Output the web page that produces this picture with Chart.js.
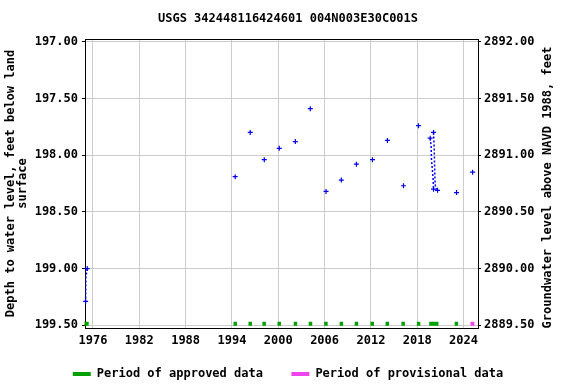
<!DOCTYPE html>
<html>
<head>
<meta charset="utf-8">
<script src="https://cdn.jsdelivr.net/npm/chart.js@4"></script>
<style>
  html, body { margin: 0; padding: 0; background: #fff; }
  #wrap { width: 576px; height: 384px; }
</style>
</head>
<body>
<div id="wrap"><canvas id="gwChart" width="576" height="384"></canvas></div>
<script>
// measurement dates (decimal years) and depth to water (ft below land surface)
const pointYears  = [1994.42, 1996.37, 1998.19, 2000.13, 2002.21, 2004.15, 2006.19, 2008.17, 2010.12, 2012.20, 2014.14, 2016.22, 2018.16, 2023.09, 2025.17];
const pointDepths = [198.19, 197.80, 198.04, 197.94, 197.88, 197.59, 198.32, 198.22, 198.08, 198.04, 197.87, 198.27, 197.74, 198.33, 198.15];

// 1975 cluster
const earlyYears  = [1975.26, 1975.08, 1975.05];
const earlyDepths = [199.00, 199.08, 199.29];

// 2019-2020 clusters
const burstAYears  = [2019.68, 2019.80, 2019.85, 2019.95, 2020.05, 2020.11];
const burstADepths = [197.85, 197.92, 198.05, 198.12, 198.20, 198.30];
const burstBYears  = [2020.11, 2020.20, 2020.25, 2020.30, 2020.35, 2020.63];
const burstBDepths = [197.80, 197.95, 198.10, 198.22, 198.27, 198.31];

// approval periods (start, end)
const approvedPeriods = [[1974.9, 1975.45], [1994.2, 1994.65], [1996.15, 1996.6], [1997.95, 1998.4], [1999.9, 2000.35], [2002.0, 2002.45], [2003.95, 2004.4], [2005.95, 2006.4], [2007.95, 2008.4], [2009.9, 2010.35], [2011.95, 2012.4], [2013.9, 2014.35], [2015.95, 2016.4], [2017.95, 2018.4], [2019.55, 2020.75], [2022.85, 2023.3]];
const provisionalPeriods = [[2024.9, 2025.4]];
const periodDepth = 199.487;

// axis ticks
const xTickYears = [1976, 1982, 1988, 1994, 2000, 2006, 2012, 2018, 2024];
const depthTicks = [197.0, 197.5, 198.0, 198.5, 199.0, 199.5];
const datumOffset = 3089; // elevation = 3089 - depth
const elevTicks = [2889.5, 2890.0, 2890.5, 2891.0, 2891.5, 2892.0];

const FONT = '"DejaVu Sans Mono", monospace';
const BLUE = '#0000ee';
const GREEN = '#00a000';
const PINK = '#ee44ee';

function pairs(xs, ys) {
    return xs.map((x, i) => ({ x: x, y: ys[i] }));
}
function periodData(periods) {
    const out = [];
    periods.forEach(p => {
        out.push({ x: p[0], y: periodDepth });
        out.push({ x: p[1], y: periodDepth });
        out.push({ x: p[1], y: null });
    });
    return out;
}
function endsOnly(n) {
    return Array.from({ length: n }, (_, i) => (i === 0 || i === n - 1) ? 2.5 : 0);
}

const depthMin = 196.976, depthMax = 199.524;

// right axis title reads bottom-to-top
const rightTitle = {
    id: 'rightTitle',
    afterDraw(chart) {
        const ctx = chart.ctx;
        const area = chart.chartArea;
        const s = chart.scales.y2;
        ctx.save();
        ctx.translate(s.right - 28, (area.top + area.bottom) / 2 + 4);
        ctx.rotate(-Math.PI / 2);
        ctx.font = 'bold 12px ' + FONT;
        ctx.fillStyle = '#000';
        ctx.textAlign = 'center';
        ctx.textBaseline = 'middle';
        ctx.fillText('Groundwater level above NAVD 1988, feet', 0, 0);
        ctx.restore();
    }
};

const ctx = document.getElementById('gwChart').getContext('2d');
new Chart(ctx, {
    type: 'scatter',
    data: {
        datasets: [{
            data: periodData(approvedPeriods),
            showLine: true,
            spanGaps: false,
            borderColor: GREEN,
            borderWidth: 4,
            borderCapStyle: 'butt',
            pointRadius: 0,
            clip: false
        }, {
            data: periodData(provisionalPeriods),
            showLine: true,
            spanGaps: false,
            borderColor: PINK,
            borderWidth: 4,
            borderCapStyle: 'butt',
            pointRadius: 0
        }, {
            data: pairs(pointYears, pointDepths),
            pointStyle: 'cross',
            pointRadius: 2.5,
            borderColor: BLUE,
            borderWidth: 1.2
        }, {
            data: pairs(earlyYears, earlyDepths),
            showLine: true,
            borderDash: [2, 2],
            borderColor: BLUE,
            borderWidth: 1.5,
            pointStyle: 'cross',
            pointRadius: endsOnly(earlyYears.length),
            pointBorderWidth: 1.2,
            clip: false
        }, {
            data: pairs(burstAYears, burstADepths),
            showLine: true,
            borderDash: [2, 2],
            borderColor: BLUE,
            borderWidth: 1.5,
            pointStyle: 'cross',
            pointRadius: endsOnly(burstAYears.length),
            pointBorderWidth: 1.2
        }, {
            data: pairs(burstBYears, burstBDepths),
            showLine: true,
            borderDash: [2, 2],
            borderColor: BLUE,
            borderWidth: 1.5,
            pointStyle: 'cross',
            pointRadius: endsOnly(burstBYears.length),
            pointBorderWidth: 1.2
        }]
    },
    options: {
        responsive: false,
        animation: false,
        layout: { padding: { left: 0, right: 0, top: 0, bottom: -6 } },
        plugins: {
            tooltip: { enabled: false },
            title: {
                display: true,
                text: 'USGS 342448116424601 004N003E30C001S',
                color: '#000',
                font: { family: FONT, size: 12, weight: 'bold' },
                padding: { top: 12, bottom: 12.6 }
            },
            legend: {
                display: true,
                position: 'bottom',
                labels: {
                    color: '#000',
                    font: { family: FONT, size: 12, weight: 'bold' },
                    boxWidth: 18,
                    boxHeight: 4,
                    padding: 14,
                    // trailing spaces widen the gap between the two entries
                    generateLabels: () => [
                        { text: 'Period of approved data  ', fillStyle: GREEN, strokeStyle: GREEN, lineWidth: 0, hidden: false, datasetIndex: 0 },
                        { text: 'Period of provisional data', fillStyle: PINK, strokeStyle: PINK, lineWidth: 0, hidden: false, datasetIndex: 1 }
                    ]
                }
            }
        },
        scales: {
            x: {
                type: 'linear',
                min: 1974.97,
                max: 2025.87,
                afterBuildTicks: s => { s.ticks = xTickYears.map(v => ({ value: v })); },
                afterFit: s => { s.height = 26; },
                ticks: {
                    autoSkip: false,
                    maxRotation: 0,
                    padding: 6,
                    color: '#000',
                    font: { family: FONT, size: 12, weight: 'bold' },
                    callback: v => String(v)
                },
                grid: { color: '#cccccc', drawTicks: false },
                border: { color: '#000', width: 1 }
            },
            xTop: {
                type: 'linear',
                position: 'top',
                min: 1974.97,
                max: 2025.87,
                ticks: { display: false },
                grid: { display: false, drawTicks: false },
                border: { color: '#000', width: 1 },
                afterFit: s => { s.height = 0; }
            },
            y: {
                position: 'left',
                reverse: true,
                min: depthMin,
                max: depthMax,
                afterBuildTicks: s => { s.ticks = depthTicks.map(v => ({ value: v })); },
                afterFit: s => { s.width = 85; },
                ticks: {
                    padding: 4,
                    color: '#000',
                    font: { family: FONT, size: 12, weight: 'bold' },
                    callback: v => Number(v).toFixed(2)
                },
                grid: { color: '#cccccc', tickLength: 3, tickColor: '#000' },
                border: { color: '#000', width: 1 },
                title: {
                    display: true,
                    text: ['Depth to water level, feet below land', 'surface'],
                    color: '#000',
                    font: { family: FONT, size: 12, weight: 'bold', lineHeight: 1.0 },
                    padding: { top: 5, bottom: 0 }
                }
            },
            y2: {
                position: 'right',
                min: datumOffset - depthMax,
                max: datumOffset - depthMin,
                afterBuildTicks: s => { s.ticks = elevTicks.map(v => ({ value: v })); },
                afterFit: s => { s.width = 98; },
                ticks: {
                    padding: 3,
                    color: '#000',
                    font: { family: FONT, size: 12, weight: 'bold' },
                    callback: v => Number(v).toFixed(2)
                },
                grid: { drawOnChartArea: false, tickLength: 3, tickColor: '#000' },
                border: { color: '#000', width: 1 }
            }
        }
    },
    plugins: [rightTitle]
});
</script>
</body>
</html>
